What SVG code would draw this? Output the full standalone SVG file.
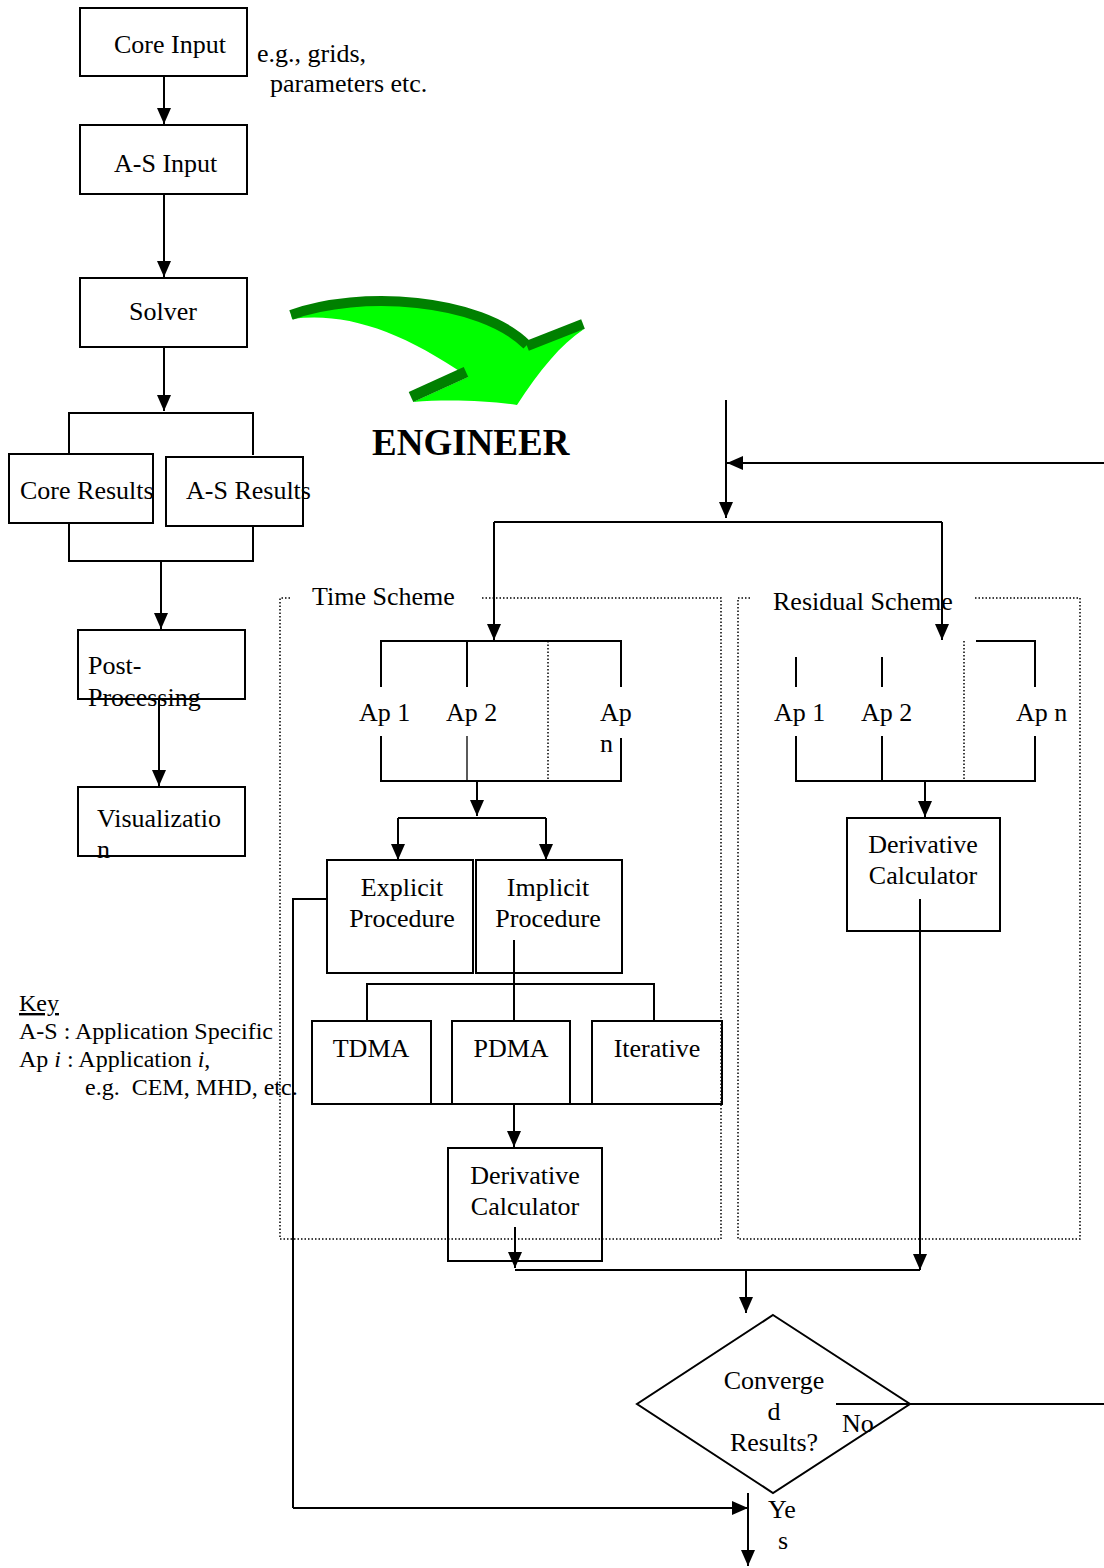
<svg xmlns="http://www.w3.org/2000/svg" width="1104" height="1568" viewBox="0 0 1104 1568">
<defs>
<marker id="ah" viewBox="0 0 16 14" refX="16" refY="7" markerWidth="16" markerHeight="14" orient="auto" markerUnits="userSpaceOnUse"><path d="M0,0 L16,7 L0,14 Z" fill="#000"/></marker>
<style>
text{font-family:"Liberation Serif","Times New Roman",serif;font-size:26px;fill:#000}
.c{text-anchor:middle}
.k{font-size:24px}
.box{fill:none;stroke:#000;stroke-width:2}
.ln{fill:none;stroke:#000;stroke-width:2}
.ar{fill:none;stroke:#000;stroke-width:2;marker-end:url(#ah)}
.dot{fill:none;stroke:#000;stroke-width:1.5;stroke-dasharray:1.5 2}
</style>
</defs>
<rect width="1104" height="1568" fill="#fff"/>

<g id="scheme-frames">
<path class="dot" d="M290,598 H280 V1239 H721 V598 H480"/>
<path class="dot" d="M750,598 H738 V1239 H1080 V598 H975"/>
<path class="dot" d="M548,641 V781"/>
<path class="dot" d="M964,641 V781"/>
</g>

<g id="engineer-arrow">
<path d="M292,319 C345,312 400,330 468,377 L413,402 C450,399 490,401 517,405 C540,370 560,345 584,329 L528,346 C480,300 360,288 291,314 Z" fill="#00ff00"/>
<path d="M291,315 C360,290 480,298 527,345" fill="none" stroke="#008000" stroke-width="10"/>
<path d="M527,346 L583,324" fill="none" stroke="#008000" stroke-width="10"/>
<path d="M411,397 L466,372" fill="none" stroke="#008000" stroke-width="11"/>
</g>
<text x="372" y="455" style="font-weight:bold;font-size:37px">ENGINEER</text>

<g id="connectors">
<path class="ar" d="M164,76 V124"/>
<path class="ar" d="M164,194 V277"/>
<path class="ar" d="M164,347 V411"/>
<path class="ln" d="M69,453 V413 H253 V455"/>
<path class="ln" d="M69,523 V561 H253 V526"/>
<path class="ar" d="M161,561 V629"/>
<path class="ar" d="M159,699 V786"/>
<path class="ar" d="M726,400 V518"/>
<path class="ar" d="M1104,463 H727"/>
<path class="ln" d="M494,522 H942"/>
<path class="ar" d="M494,522 V640"/>
<path class="ar" d="M942,522 V640"/>
<path class="ln" d="M381,687 V641 H621 V687"/>
<path class="ln" d="M467,641 V687"/>
<path class="ln" d="M381,736 V781 H621 V738"/>
<path class="ln" d="M467,736 V781" style="stroke-width:1.3"/>
<path class="ar" d="M477,781 V816"/>
<path class="ln" d="M398,818 H546"/>
<path class="ar" d="M398,818 V860"/>
<path class="ar" d="M546,818 V860"/>
<path class="ln" d="M796,657 V687 M882,657 V687"/>
<path class="ln" d="M976,641 H1035 V687"/>
<path class="ln" d="M796,736 V781 H1035 V736 M882,736 V781"/>
<path class="ar" d="M925,781 V817"/>
<path class="ln" d="M514,940 V1021"/>
<path class="ln" d="M367,1021 V984 H654 V1021"/>
<path class="ln" d="M431,1104 H452 M570,1104 H592"/>
<path class="ar" d="M514,1104 V1147"/>
<path class="ar" d="M515,1227 V1268"/>
<path class="ln" d="M515,1270 H920"/>
<path class="ar" d="M920,899 V1270"/>
<path class="ar" d="M746,1270 V1313"/>
<path class="ln" d="M836,1404 H1104"/>
<path class="ar" d="M748,1493 V1566"/>
<path class="ln" d="M326,899 H293 V1508"/>
<path class="ar" d="M293,1508 H748"/>
</g>

<g id="core-input">
<rect class="box" x="80" y="8" width="167" height="68"/>
<text x="114" y="53">Core Input</text>
</g>
<text x="257" y="62">e.g., grids,</text>
<text x="270" y="92">parameters etc.</text>
<g id="as-input">
<rect class="box" x="80" y="125" width="167" height="69"/>
<text x="114" y="172">A-S Input</text>
</g>
<g id="solver">
<rect class="box" x="80" y="278" width="167" height="69"/>
<text x="163" y="320" class="c">Solver</text>
</g>
<g id="core-results">
<rect class="box" x="9" y="454" width="144" height="69"/>
<text x="20" y="499">Core Results</text>
</g>
<g id="as-results">
<rect class="box" x="166" y="457" width="137" height="69"/>
<text x="186" y="499">A-S Results</text>
</g>
<g id="post-processing">
<rect class="box" x="78" y="630" width="167" height="69"/>
<text x="88" y="674">Post-</text>
<text x="88" y="706">Processing</text>
</g>
<g id="visualization">
<rect class="box" x="78" y="787" width="167" height="69"/>
<text x="97" y="827">Visualizatio</text>
<text x="97" y="858">n</text>
</g>

<text x="312" y="605">Time Scheme</text>
<text x="773" y="610">Residual Scheme</text>

<g id="time-aps">
<text x="359" y="721">Ap 1</text>
<text x="446" y="721">Ap 2</text>
<text x="600" y="721">Ap</text>
<text x="600" y="752">n</text>
</g>
<g id="residual-aps">
<text x="774" y="721">Ap 1</text>
<text x="861" y="721">Ap 2</text>
<text x="1016" y="721">Ap n</text>
</g>

<g id="explicit">
<rect class="box" x="327" y="860" width="146" height="113"/>
<text x="402" y="896" class="c">Explicit</text>
<text x="402" y="927" class="c">Procedure</text>
</g>
<g id="implicit">
<rect class="box" x="476" y="860" width="146" height="113"/>
<text x="548" y="896" class="c">Implicit</text>
<text x="548" y="927" class="c">Procedure</text>
</g>
<g id="tdma">
<rect class="box" x="312" y="1021" width="119" height="83"/>
<text x="371" y="1057" class="c">TDMA</text>
</g>
<g id="pdma">
<rect class="box" x="452" y="1021" width="118" height="83"/>
<text x="511" y="1057" class="c">PDMA</text>
</g>
<g id="iterative">
<rect class="box" x="592" y="1021" width="130" height="83"/>
<text x="657" y="1057" class="c">Iterative</text>
</g>
<g id="derivative-time">
<rect class="box" x="448" y="1148" width="154" height="113"/>
<text x="525" y="1184" class="c">Derivative</text>
<text x="525" y="1215" class="c">Calculator</text>
</g>
<g id="derivative-residual">
<rect class="box" x="847" y="818" width="153" height="113"/>
<text x="923" y="853" class="c">Derivative</text>
<text x="923" y="884" class="c">Calculator</text>
</g>
<g id="converged">
<path class="ln" d="M773,1315 L910,1404 L773,1493 L637,1404 Z"/>
<text x="774" y="1389" class="c">Converge</text>
<text x="774" y="1420" class="c">d</text>
<text x="774" y="1451" class="c">Results?</text>
</g>
<text x="842" y="1432">No</text>
<text x="768" y="1518">Ye</text>
<text x="778" y="1549">s</text>

<g id="key">
<text x="19" y="1011" class="k" text-decoration="underline">Key</text>
<text x="19" y="1039" class="k">A-S : Application Specific</text>
<text x="19" y="1067" class="k">Ap <tspan font-style="italic">i</tspan> : Application <tspan font-style="italic">i</tspan>,</text>
<text x="85" y="1095" class="k" xml:space="preserve">e.g.  CEM, MHD, etc.</text>
</g>
</svg>
